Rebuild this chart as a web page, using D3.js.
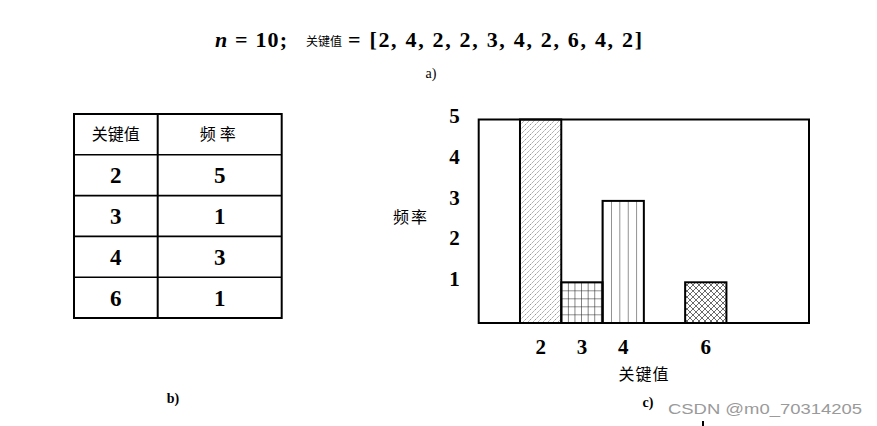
<!DOCTYPE html>
<html>
<head>
<meta charset="utf-8">
<script src="https://cdn.jsdelivr.net/npm/d3@7"></script>
<style>
  body { margin: 0; background: #fff; }
  svg { display: block; }
</style>
</head>
<body>
<script>
// data
var keyList = [2, 4, 2, 2, 3, 4, 2, 6, 4, 2];
var keyValues = [2, 3, 4, 6];
var freqs = [5, 1, 3, 1];
var xSlots = [1, 2, 3, 4, 5, 6, 7, 8];
var yTicks = [1, 2, 3, 4, 5];
var patternIds = ['diag', 'grid', 'vert', 'cross'];

var serif = '"Liberation Serif", "Times New Roman", "DejaVu Serif", serif';
var cjk = '"Noto Sans CJK SC", sans-serif';

var svg = d3.select('body').append('svg')
    .attr('width', 877)
    .attr('height', 426);

var defs = svg.append('defs');

// hatch patterns
var p = defs.append('pattern').attr('id', 'diag').attr('patternUnits', 'userSpaceOnUse')
    .attr('width', 5).attr('height', 5);
p.append('path').attr('d', 'M-1,1 L1,-1 M0,5 L5,0 M4,6 L6,4')
    .attr('stroke', '#666').attr('stroke-width', 0.7).attr('stroke-dasharray', '2,1.2');

p = defs.append('pattern').attr('id', 'grid').attr('patternUnits', 'userSpaceOnUse')
    .attr('width', 6.6).attr('height', 8);
p.append('path').attr('d', 'M0,0 V8 M0,0 H6.6')
    .attr('stroke', '#222').attr('stroke-width', 1.1);

p = defs.append('pattern').attr('id', 'vert').attr('patternUnits', 'userSpaceOnUse')
    .attr('width', 8.4).attr('height', 10);
p.append('path').attr('d', 'M0,0 V10')
    .attr('stroke', '#222').attr('stroke-width', 1);

p = defs.append('pattern').attr('id', 'cross').attr('patternUnits', 'userSpaceOnUse')
    .attr('width', 6).attr('height', 6);
p.append('path').attr('d', 'M0,0 L6,6 M0,6 L6,0')
    .attr('stroke', '#444').attr('stroke-width', 0.8);

// --- a) top formula ---
svg.append('text').attr('x', 215).attr('y', 47)
    .attr('font-family', serif).attr('font-size', 22).attr('font-weight', 'bold')
    .attr('textLength', 72).attr('lengthAdjust', 'spacing')
    .html('<tspan font-style="italic">n</tspan> = 10;');
svg.append('text').attr('x', 306).attr('y', 46)
    .attr('font-family', cjk).attr('font-size', 12)
    .text('关键值');
svg.append('text').attr('x', 348).attr('y', 47)
    .attr('font-family', serif).attr('font-size', 22).attr('font-weight', 'bold')
    .attr('textLength', 294).attr('lengthAdjust', 'spacing')
    .text('= [' + keyList.join(', ') + ']');
svg.append('text').attr('x', 431).attr('y', 78)
    .attr('font-family', serif).attr('font-size', 14).attr('text-anchor', 'middle')
    .text('a)');

// --- b) table ---
var tx = [74, 157.7, 281.7];
var rowY = d3.scaleBand().domain(d3.range(keyValues.length + 1)).range([114, 318]);
var table = svg.append('g');
table.append('rect').attr('x', tx[0]).attr('y', 114)
    .attr('width', tx[2] - tx[0]).attr('height', 318 - 114)
    .attr('fill', 'none').attr('stroke', '#000').attr('stroke-width', 2);
table.append('line').attr('x1', tx[1]).attr('x2', tx[1]).attr('y1', 114).attr('y2', 318)
    .attr('stroke', '#000').attr('stroke-width', 2);
table.selectAll('line.row').data(d3.range(1, keyValues.length + 1)).enter()
    .append('line').attr('class', 'row')
    .attr('x1', tx[0]).attr('x2', tx[2])
    .attr('y1', function(d) { return rowY(d); }).attr('y2', function(d) { return rowY(d); })
    .attr('stroke', '#000').attr('stroke-width', 1.6);

var c1 = (tx[0] + tx[1]) / 2, c2 = (tx[1] + tx[2]) / 2;
table.append('text').attr('x', c1).attr('y', rowY(0) + rowY.bandwidth() / 2 + 6)
    .attr('font-family', cjk).attr('font-size', 16).attr('text-anchor', 'middle')
    .text('关键值');
table.append('text').attr('x', c2).attr('y', rowY(0) + rowY.bandwidth() / 2 + 6)
    .attr('font-family', cjk).attr('font-size', 16).attr('text-anchor', 'middle')
    .attr('letter-spacing', 4)
    .text('频率');
keyValues.forEach(function(k, i) {
  var cy = rowY(i + 1) + rowY.bandwidth() / 2 + 8;
  table.append('text').attr('x', c1).attr('y', cy)
      .attr('font-family', serif).attr('font-size', 23).attr('font-weight', 'bold')
      .attr('text-anchor', 'middle').text(k);
  table.append('text').attr('x', c2).attr('y', cy)
      .attr('font-family', serif).attr('font-size', 23).attr('font-weight', 'bold')
      .attr('text-anchor', 'middle').text(freqs[i]);
});
svg.append('text').attr('x', 173).attr('y', 403)
    .attr('font-family', serif).attr('font-size', 14).attr('font-weight', 'bold').attr('text-anchor', 'middle')
    .text('b)');

// --- c) histogram ---
var x = d3.scaleBand().domain(xSlots).range([478.7, 809]).padding(0);
var y = d3.scaleLinear().domain([0, 5]).range([323, 119.5]);

var bars = svg.append('g');
bars.selectAll('rect').data(keyValues).enter().append('rect')
    .attr('x', function(d) { return x(d); })
    .attr('y', function(d, i) { return y(freqs[i]); })
    .attr('width', x.bandwidth())
    .attr('height', function(d, i) { return y(0) - y(freqs[i]); })
    .attr('fill', function(d, i) { return 'url(#' + patternIds[i] + ')'; })
    .attr('stroke', '#000').attr('stroke-width', 2);

// anchor the line patterns to the bar edges
defs.select('#vert').attr('x', x(4));
defs.select('#grid').attr('x', x(3)).attr('y', y(1));

svg.append('rect').attr('x', x.range()[0]).attr('y', y(5))
    .attr('width', x.range()[1] - x.range()[0]).attr('height', y(0) - y(5))
    .attr('fill', 'none').attr('stroke', '#000').attr('stroke-width', 2);

var yAxis = d3.axisLeft(y).tickValues(yTicks).tickSize(0).tickPadding(19).tickFormat(d3.format('d'));
var gy = svg.append('g').attr('transform', 'translate(' + x.range()[0] + ',0)').call(yAxis);
gy.select('.domain').remove();
gy.selectAll('text').attr('font-family', serif).attr('font-size', 21).attr('font-weight', 'bold')
    .attr('fill', '#000').attr('dy', '0.15em');

var xAxis = d3.axisBottom(x).tickValues(keyValues).tickSize(0).tickPadding(16);
var gx = svg.append('g').attr('transform', 'translate(0,' + y(0) + ')').call(xAxis);
gx.select('.domain').remove();
gx.selectAll('text').attr('font-family', serif).attr('font-size', 21).attr('font-weight', 'bold')
    .attr('fill', '#000');

svg.append('text').attr('x', 411).attr('y', 223)
    .attr('font-family', cjk).attr('font-size', 16).attr('text-anchor', 'middle')
    .attr('letter-spacing', 2)
    .text('频率');
svg.append('text').attr('x', 644).attr('y', 380)
    .attr('font-family', cjk).attr('font-size', 16).attr('text-anchor', 'middle')
    .attr('letter-spacing', 1)
    .text('关键值');
svg.append('text').attr('x', 648).attr('y', 407)
    .attr('font-family', serif).attr('font-size', 14).attr('font-weight', 'bold').attr('text-anchor', 'middle')
    .text('c)');

// watermark
svg.append('text').attr('x', 668).attr('y', 414)
    .attr('font-family', '"Liberation Sans", sans-serif').attr('font-size', 15)
    .attr('fill', '#9a9a9a').attr('textLength', 194).attr('lengthAdjust', 'spacingAndGlyphs')
    .text('CSDN @m0_70314205');
svg.append('line').attr('x1', 703).attr('x2', 703).attr('y1', 421).attr('y2', 426)
    .attr('stroke', '#000').attr('stroke-width', 2);
</script>
</body>
</html>
